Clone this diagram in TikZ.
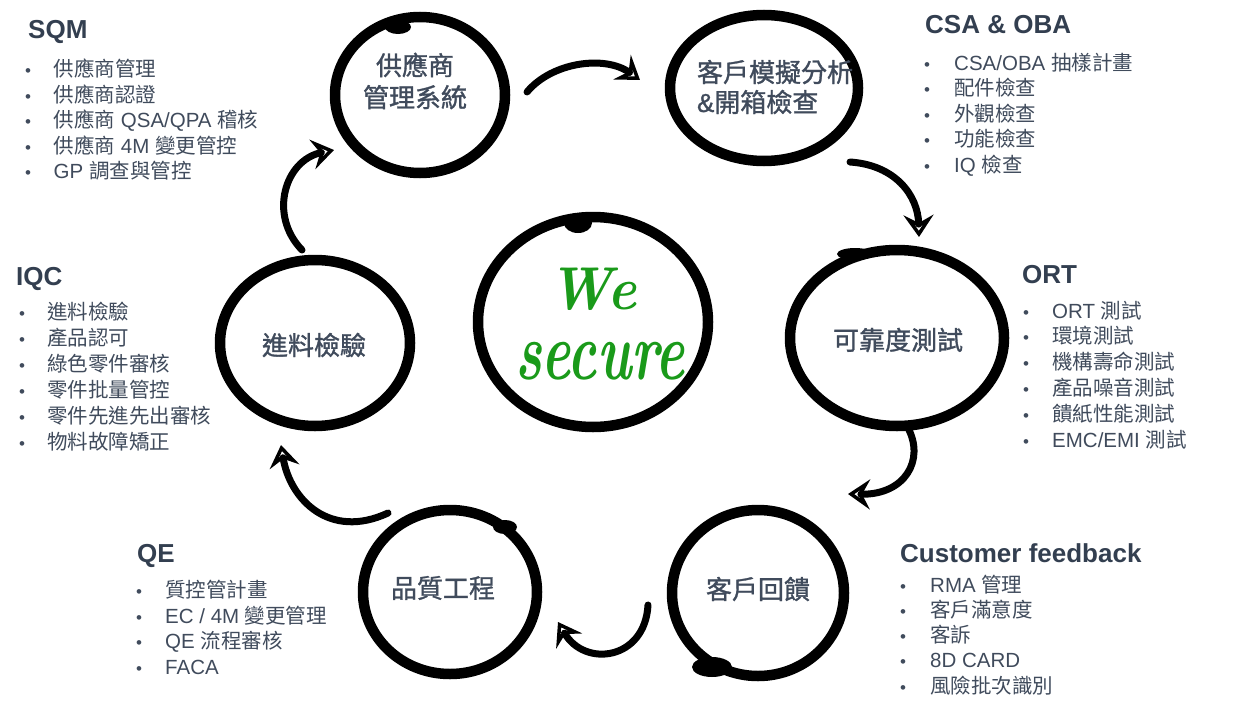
\documentclass[tikz,border=0pt]{standalone}
\usepackage{fontspec}
\usepackage{graphicx}
\usetikzlibrary{arrows.meta,shapes.geometric}
\newfontfamily\arial{Liberation Sans}
\newfontfamily\zh{Noto Sans CJK TC}
\newfontfamily\zhm{Noto Sans CJK TC}[FakeBold=1.2]
\newfontfamily\arialm{Liberation Sans}[FakeBold=1.2]
\definecolor{txt}{HTML}{404B5C}
\definecolor{hd}{HTML}{333F50}
\definecolor{wgreen}{HTML}{1A9A1A}
\tikzset{
  ring/.style={ellipse, draw=black, line width=10.5pt, inner sep=0pt, outer sep=0pt},
  lab/.style={font=\zhm\fontsize{26}{32}\selectfont, text=txt, align=center},
  head/.style={font=\arial\bfseries\fontsize{26}{30}\selectfont, text=hd, anchor=base west, inner sep=0pt},
  item/.style={font=\arial\fontsize{20.5}{24}\selectfont, text=txt, anchor=base west, inner sep=0pt},
  bul/.style={font=\arial\fontsize{17}{20}\selectfont, text=txt, anchor=base, inner sep=0pt},
  brush/.style={line width=7pt, line cap=round,
    -{Stealth[open,length=22pt,width=30pt,inset=8pt,line width=4.5pt]}},
  blob/.style={fill=black, draw=none},
  hand/.style={font=\normalfont\bfseries\itshape\fontsize{55}{60}\selectfont, text=wgreen, inner sep=0pt, align=center}
}
\begin{document}
\begin{tikzpicture}[x=1pt,y=-1pt]
\useasboundingbox[fill=white] (0,0) rectangle (1258,712);

% rings
\node[ring, minimum width=170pt, minimum height=156pt] (c1) at (420,95) {};
\node[ring, minimum width=188pt, minimum height=146pt] (c2) at (764,88) {};
\node[ring, minimum width=214pt, minimum height=176pt] (c3) at (897,338) {};
\node[ring, minimum width=172pt, minimum height=166pt] (c4) at (758,593) {};
\node[ring, minimum width=174pt, minimum height=164pt] (c5) at (450,592) {};
\node[ring, minimum width=190pt, minimum height=166pt] (c6) at (315,343) {};
\node[ring, minimum width=230pt, minimum height=210pt] (c0) at (593,322) {};

% brush blobs
\fill[blob] (398,27) ellipse [x radius=13pt, y radius=7pt];
\fill[blob] (578,223) ellipse [x radius=14pt, y radius=10pt];
\fill[blob] (712,667) ellipse [x radius=20pt, y radius=10pt];
\fill[blob] (855,254) ellipse [x radius=18pt, y radius=6pt];
\fill[blob] (505,527) ellipse [x radius=12pt, y radius=7pt];

% ring labels
\node[lab] (t1) at (415,81) {供應商\\[0pt]管理系統};
\node[lab, align=left] (t2) at (775,87) {客戶模擬分析\\[-2pt]{\arialm\&}開箱檢查};
\node[lab] (t3) at (898,340) {可靠度測試};
\node[lab] (t4) at (758,589) {客戶回饋};
\node[lab] (t5) at (443,588) {品質工程};
\node[lab] (t6) at (314,345) {進料檢驗};

% We secure
\node[hand] (we) at (600,324) {\hspace*{-14pt}\scalebox{1}[1.1]{We}\\[10pt]\scalebox{1}[1.5]{secure}};

% arrows
\coordinate (a1s) at (527,92);  \coordinate (a1e) at (640,80);
\coordinate (a2s) at (850,162); \coordinate (a2e) at (919,237);
\coordinate (a3s) at (908,428); \coordinate (a3e) at (848,494);
\coordinate (a4s) at (648,605); \coordinate (a4e) at (558,622);
\coordinate (a5s) at (388,513); \coordinate (a5e) at (281,445);
\coordinate (a6s) at (302,250); \coordinate (a6e) at (334,150);
\draw[brush] (a1s) .. controls (552,62) and (605,55) .. (a1e);
\draw[brush] (a2s) .. controls (895,165) and (918,195) .. (a2e);
\draw[brush] (a3s) .. controls (925,460) and (905,495) .. (a3e);
\draw[brush] (a4s) .. controls (645,660) and (585,668) .. (a4e);
\draw[brush] (a5s) .. controls (330,540) and (290,500) .. (a5e);
\draw[brush] (a6s) .. controls (268,215) and (285,160) .. (a6e);

% SQM
\node[head] (hsqm) at (28,38) {SQM};
\foreach \t [count=\i] in {{\zh 供應商管理},{\zh 供應商認證},{{\zh 供應商} QSA/QPA {\zh 稽核}},{{\zh 供應商} 4M {\zh 變更管控}},{GP {\zh 調查與管控}}}{
  \node[bul] (bsqm\i) at (28,{76.5+25.5*(\i-1)}) {•};
  \node[item] (isqm\i) at (53.5,{76.5+25.5*(\i-1)}) {\t};
}
% CSA & OBA
\node[head] (hcsa) at (925,33) {CSA \& OBA};
\foreach \t [count=\i] in {{CSA/OBA {\zh 抽樣計畫}},{\zh 配件檢查},{\zh 外觀檢查},{\zh 功能檢查},{IQ {\zh 檢查}}}{
  \node[bul] (bcsa\i) at (927,{70+25.5*(\i-1)}) {•};
  \node[item] (icsa\i) at (954,{70+25.5*(\i-1)}) {\t};
}
% IQC
\node[head] (hiqc) at (16,285) {IQC};
\foreach \t [count=\i] in {{\zh 進料檢驗},{\zh 產品認可},{\zh 綠色零件審核},{\zh 零件批量管控},{\zh 零件先進先出審核},{\zh 物料故障矯正}}{
  \node[bul] (biqc\i) at (22,{319+26*(\i-1)}) {•};
  \node[item] (iiqc\i) at (47,{319+26*(\i-1)}) {\t};
}
% ORT
\node[head] (hort) at (1022,283) {ORT};
\foreach \t [count=\i] in {{ORT {\zh 測試}},{\zh 環境測試},{\zh 機構壽命測試},{\zh 產品噪音測試},{\zh 饋紙性能測試},{EMC/EMI {\zh 測試}}}{
  \node[bul] (bort\i) at (1026,{318+25.8*(\i-1)}) {•};
  \node[item] (iort\i) at (1052,{318+25.8*(\i-1)}) {\t};
}
% QE
\node[head] (hqe) at (137,562) {QE};
\foreach \t [count=\i] in {{\zh 質控管計畫},{EC / 4M {\zh 變更管理}},{QE {\zh 流程審核}},{FACA}}{
  \node[bul] (bqe\i) at (139,{597.5+25.7*(\i-1)}) {•};
  \node[item] (iqe\i) at (165,{597.5+25.7*(\i-1)}) {\t};
}
% Customer feedback
\node[head] (hcf) at (900,562) {Customer feedback};
\foreach \t [count=\i] in {{RMA {\zh 管理}},{\zh 客戶滿意度},{\zh 客訴},{8D CARD},{\zh 風險批次識別}}{
  \node[bul] (bcf\i) at (903,{592+25.3*(\i-1)}) {•};
  \node[item] (icf\i) at (930,{592+25.3*(\i-1)}) {\t};
}
\end{tikzpicture}
\end{document}
